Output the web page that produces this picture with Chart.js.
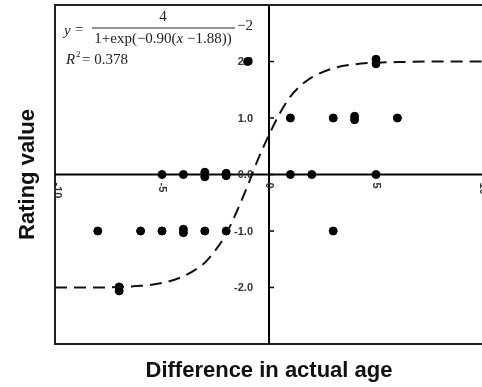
<!DOCTYPE html>
<html>
<head>
<meta charset="utf-8">
<script src="https://cdn.jsdelivr.net/npm/chart.js@4.4.1/dist/chart.umd.min.js"></script>
<style>
html,body{margin:0;padding:0;background:#fff;overflow:hidden;width:482px;height:387px;}
#wrap{width:490px;height:387px;}
canvas{display:block;}
</style>
</head>
<body>
<div id="wrap"><canvas id="c" width="490" height="387"></canvas></div>
<script>
// Observed data points (difference in actual age, rating value)
const pointX = [-1, 5, 5, 1, 3, 4, 4, 6, -5, -4, -3, -3, -2, -2, 1, 2, 5, -8, -6, -5, -4, -4, -3, -2, 3, -7, -7];
const pointY = [2, 1.96, 2.04, 1, 1, 0.97, 1.03, 1, 0, 0, -0.04, 0.04, -0.02, 0.02, 0, 0, 0, -1, -1, -1, -1.03, -0.97, -1, -1, -1, -1.99, -2.06];

// Fitted curve
const curveX = [-10, -8, -7, -6, -5, -4, -3, -2.5, -2, -1.5, -1, -0.5, 0, 0.5, 1, 1.5, 2, 3, 4, 5, 6, 8, 10];
const curveY = [-2.0, -2.0, -1.99, -1.97, -1.92, -1.8, -1.56, -1.34, -1.05, -0.65, -0.2, 0.28, 0.7, 1.08, 1.38, 1.58, 1.72, 1.88, 1.95, 1.98, 1.99, 2.0, 2.0];

// Tick labels
const xTickValues = [-10, -5, 0, 5, 10];
const xTickLabels = ['-10', '-5', '0', '5', '10'];
const yTickValues = [2, 1, 0, -1, -2];
const yTickLabels = ['2.0', '1.0', '0.0', '-1.0', '-2.0'];

const xTitle = 'Difference in actual age';
const yTitle = 'Rating value';

const axesPlugin = {
  id: 'axesPlugin',
  beforeDatasetsDraw(chart) {
    const ctx = chart.ctx;
    const xs = chart.scales.x, ys = chart.scales.y;
    const a = chart.chartArea;
    const x0 = xs.getPixelForValue(0), y0 = ys.getPixelForValue(0);
    ctx.save();
    // frame
    ctx.strokeStyle = '#222';
    ctx.lineWidth = 2;
    ctx.beginPath();
    ctx.moveTo(a.right + 5, a.top); ctx.lineTo(a.left, a.top); ctx.lineTo(a.left, a.bottom); ctx.lineTo(a.right + 5, a.bottom);
    ctx.stroke();
    // axes through origin
    ctx.strokeStyle = '#000';
    ctx.beginPath();
    ctx.moveTo(a.left, y0); ctx.lineTo(a.right + 5, y0);
    ctx.moveTo(x0, a.top); ctx.lineTo(x0, a.bottom);
    ctx.stroke();
    // y ticks
    ctx.lineWidth = 1.5;
    ctx.fillStyle = '#333';
    ctx.font = 'bold 11px "Liberation Sans", Arial, sans-serif';
    ctx.textAlign = 'right';
    ctx.textBaseline = 'middle';
    yTickValues.forEach((v, i) => {
      const py = ys.getPixelForValue(v);
      ctx.beginPath(); ctx.moveTo(x0, py); ctx.lineTo(x0 + 5, py); ctx.stroke();
      ctx.fillText(yTickLabels[i], x0 - 16, py + 0.5);
    });
    // x tick labels rotated
    ctx.textAlign = 'left';
    xTickValues.forEach((v, i) => {
      let px = xs.getPixelForValue(v);
      if (i === 0) px += 2;
      ctx.save();
      ctx.translate(px, y0 + 8);
      ctx.rotate(Math.PI / 2);
      ctx.fillText(xTickLabels[i], 0, 0);
      ctx.restore();
    });
    // axis titles
    ctx.fillStyle = '#111';
    ctx.font = 'bold 22px "Liberation Sans", Arial, sans-serif';
    ctx.textAlign = 'center';
    ctx.textBaseline = 'middle';
    ctx.fillText(xTitle, (a.left + 483) / 2, 371);
    ctx.save();
    ctx.translate(28, (a.top + a.bottom) / 2);
    ctx.rotate(-Math.PI / 2);
    ctx.fillText(yTitle, 0, 0);
    ctx.restore();

    // equation
    ctx.fillStyle = '#222';
    ctx.textBaseline = 'middle';
    ctx.textAlign = 'left';
    const serif = '"Liberation Serif", "Times New Roman", serif';
    const F = 15;
    ctx.font = 'italic ' + F + 'px ' + serif;
    ctx.fillText('y', 64, 31);
    ctx.font = F + 'px ' + serif;
    ctx.fillText('=', 75, 30);
    ctx.textAlign = 'center';
    ctx.fillText('4', 163, 17);
    ctx.strokeStyle = '#222'; ctx.lineWidth = 1;
    ctx.beginPath(); ctx.moveTo(92, 28); ctx.lineTo(235, 28); ctx.stroke();
    ctx.textAlign = 'left';
    let p1 = '1+exp(\u22120.90(', p2 = 'x', p3 = ' \u22121.88))';
    ctx.font = F + 'px ' + serif; const w1 = ctx.measureText(p1).width, w3 = ctx.measureText(p3).width;
    ctx.font = 'italic ' + F + 'px ' + serif; const w2 = ctx.measureText(p2).width;
    let sx = 163 - (w1 + w2 + w3) / 2;
    ctx.font = F + 'px ' + serif; ctx.fillText(p1, sx, 39);
    ctx.font = 'italic ' + F + 'px ' + serif; ctx.fillText(p2, sx + w1, 39);
    ctx.font = F + 'px ' + serif; ctx.fillText(p3, sx + w1 + w2, 39);
    ctx.font = F + 'px ' + serif; ctx.fillText('\u22122', 237, 26);
    ctx.font = 'italic ' + F + 'px ' + serif; ctx.fillText('R', 66, 60);
    ctx.font = '9px ' + serif; ctx.fillText('2', 76, 55);
    ctx.font = F + 'px ' + serif; ctx.fillText('= 0.378', 82, 60);
    ctx.restore();
  }
};

const points = pointX.map((x, i) => ({ x: x, y: pointY[i] }));
const curve = curveX.map((x, i) => ({ x: x, y: curveY[i] }));

new Chart(document.getElementById('c'), {
  type: 'scatter',
  data: {
    datasets: [
      {
        type: 'line',
        data: curve,
        borderColor: '#111',
        borderWidth: 2,
        borderDash: [12, 7],
        pointRadius: 0,
        fill: false,
        cubicInterpolationMode: 'monotone'
      },
      {
        data: points,
        backgroundColor: '#000',
        borderColor: '#000',
        pointRadius: 4,
        pointHoverRadius: 4
      }
    ]
  },
  options: {
    responsive: false,
    animation: false,
    devicePixelRatio: 1,
    layout: { padding: { left: 55, right: 7, top: 3, bottom: 43 } },
    plugins: { legend: { display: false }, tooltip: { enabled: false }, title: { display: false } },
    scales: {
      x: { type: 'linear', min: -10, max: 10, display: false },
      y: { type: 'linear', min: -3, max: 3, display: false }
    }
  },
  plugins: [axesPlugin]
});
</script>
</body>
</html>
